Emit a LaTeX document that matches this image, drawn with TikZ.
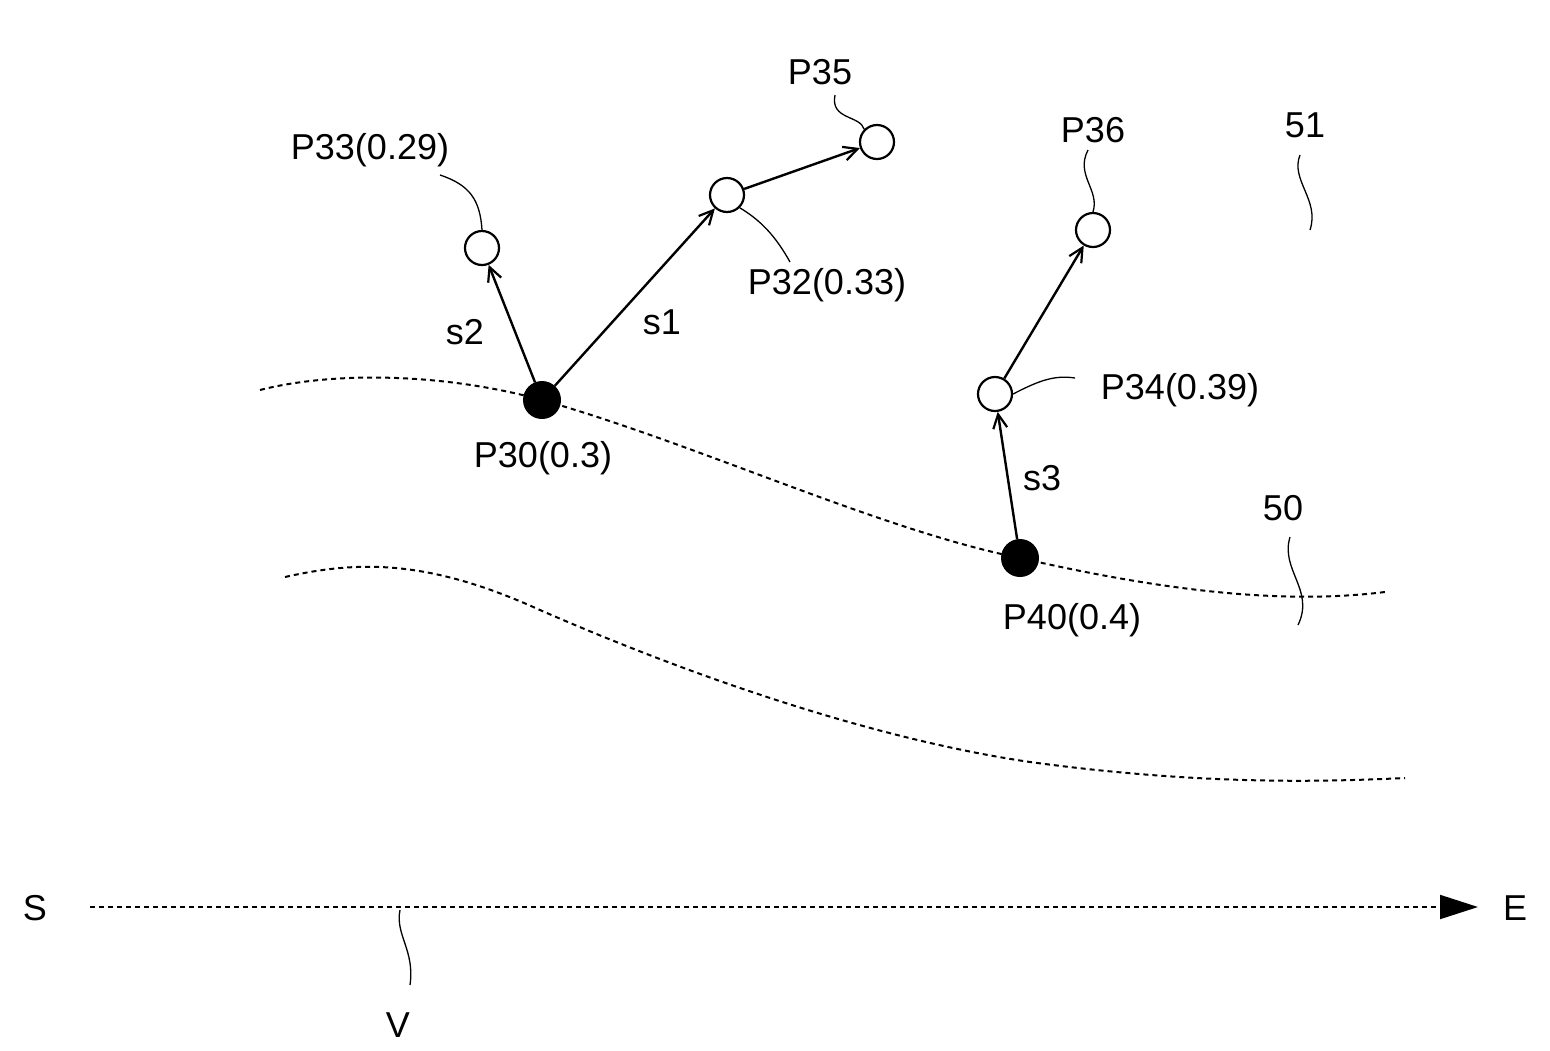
\documentclass[tikz,border=0pt]{standalone}
\usepackage{fontspec}
\setmainfont{Liberation Sans}
\usetikzlibrary{arrows.meta}
\begin{document}
\begin{tikzpicture}[x=1pt,y=-1pt,
  open/.style={circle,draw,line width=2.2pt,minimum size=34pt,inner sep=0pt,fill=white},
  full/.style={circle,draw,fill=black,line width=2pt,minimum size=36pt,inner sep=0pt},
  lab/.style={font=\fontsize{36}{40}\selectfont},
  vec/.style={line width=2.4pt,-{Straight Barb[length=14pt,width=14pt,line width=2.2pt]}},
  lead/.style={line width=1.3pt},
  dots/.style={line width=2pt,dash pattern=on 5pt off 4pt}]
\useasboundingbox (0,0) rectangle (1550,1050);
% curves
\draw[dots] (260,390) .. controls (330,372) and (440,372) .. (542,400)
  .. controls (700,445) and (880,530) .. (1020,558)
  .. controls (1160,590) and (1280,605) .. (1385,592);
\draw[dots] (285,577) .. controls (360,560) and (430,560) .. (540,610)
  .. controls (700,680) and (880,740) .. (1030,762)
  .. controls (1200,785) and (1320,782) .. (1405,778);
% nodes
\node[full] (p30) at (542,400) {};
\node[full] (p40) at (1020,558) {};
\node[open] (p33) at (482,248) {};
\node[open] (p32) at (727,195) {};
\node[open] (p35) at (877,142) {};
\node[open] (p34) at (995,394) {};
\node[open] (p36) at (1093,230) {};
\draw[vec] (p30) -- (p33);
\draw[vec] (p30) -- (p32);
\draw[vec] (p32) -- (p35);
\draw[vec] (p40) -- (p34);
\draw[vec] (p34) -- (p36);
% labels
\node[lab] (l33) at (370,150) {P33(0.29)};
\node[lab] (l35) at (820,72) {P35};
\node[lab] (l32) at (827,285) {P32(0.33)};
\node[lab] (l36) at (1093,130) {P36};
\node[lab] (l51) at (1305,125) {51};
\node[lab] (l34) at (1180,390) {P34(0.39)};
\node[lab] (l30) at (543,458) {P30(0.3)};
\node[lab] (l40) at (1072,620) {P40(0.4)};
\node[lab] (l50) at (1283,508) {50};
\node[lab] (s2) at (465,332) {s2};
\node[lab] (s1) at (662,322) {s1};
\node[lab] (s3) at (1042,478) {s3};
\node[lab] (S) at (35,908) {S};
\node[lab] (E) at (1515,908) {E};
\node[lab] (V) at (398,1025) {V};
% leaders
\draw[lead] (440,175) .. controls (470,185) and (480,200) .. (p33.north);
\draw[lead] (835,95) .. controls (830,120) and (860,115) .. (p35.north west);
\draw[lead] (p32.south east) .. controls (760,220) and (775,235) .. (790,262);
\draw[lead] (1088,150) .. controls (1075,175) and (1100,190) .. (p36.north);
\draw[lead] (1300,155) .. controls (1290,180) and (1320,200) .. (1310,230);
\draw[lead] (p34.east) .. controls (1040,380) and (1055,375) .. (1075,378);
\draw[lead] (1290,537) .. controls (1280,570) and (1315,590) .. (1298,625);
% axis
\coordinate (ax0) at (90,907);
\coordinate (ax1) at (1478,907);
\draw[dots,-{Triangle[length=38pt,width=24pt]}] (ax0) -- (ax1);
\draw[lead] (400,910) .. controls (395,935) and (415,950) .. (410,985);
\end{tikzpicture}
\end{document}
